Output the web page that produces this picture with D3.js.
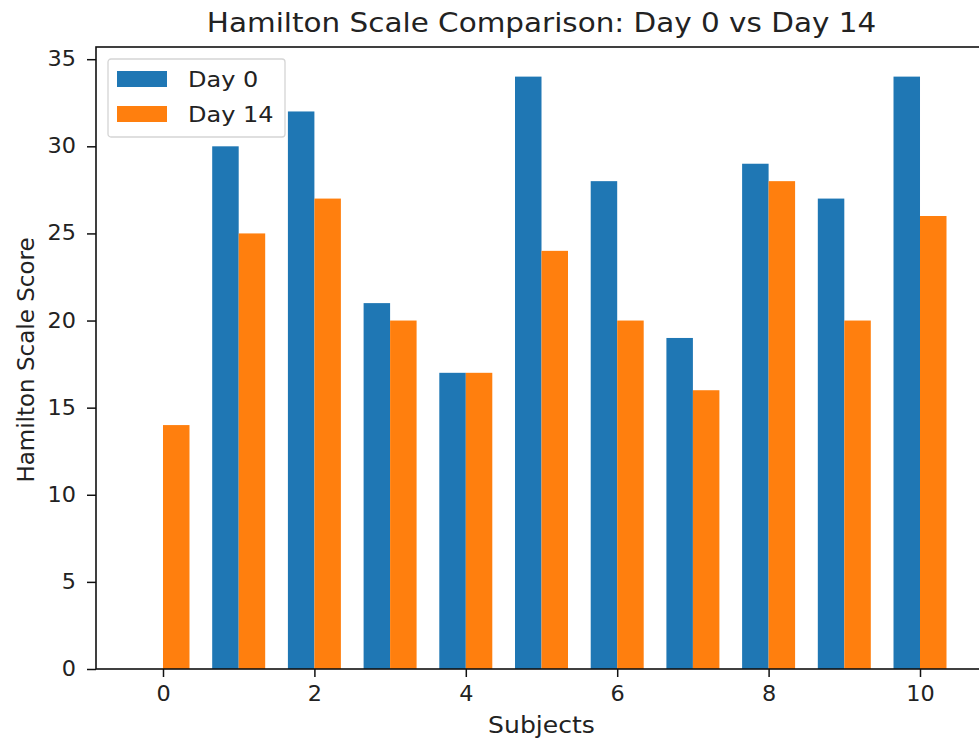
<!DOCTYPE html>
<html>
<head>
<meta charset="utf-8">
<script src="https://cdn.jsdelivr.net/npm/d3@7"></script>
<style>
  body { margin: 0; background: #fff; overflow: hidden; }
  svg text { font-family: "DejaVu Sans", sans-serif; fill: #222; }
</style>
</head>
<body>
<script>
// data
var subjects = [0, 1, 2, 3, 4, 5, 6, 7, 8, 9, 10];
var day0 = [0, 30, 32, 21, 17, 34, 28, 19, 29, 27, 34];
var day14 = [14, 25, 27, 20, 17, 24, 20, 16, 28, 20, 26];
var xTicks = [0, 2, 4, 6, 8, 10];
var yTicks = [0, 5, 10, 15, 20, 25, 30, 35];
var seriesNames = ["Day 0", "Day 14"];
var colors = ["#1f77b4", "#ff7f0e"];

var W = 979, H = 745;
var plotLeft = 96, plotRight = 987, plotTop = 47, plotBottom = 669;
var barW = 0.35;
// the reference picture is a little wider than tall, stretch text the same way
var stretchX = 1.09;

var svg = d3.select("body").append("svg")
    .attr("width", W)
    .attr("height", H);

// scales, with matplotlib style margins
var xScale = d3.scaleLinear()
    .domain([-barW - 0.535, 10 + barW + 0.535])
    .range([plotLeft, plotRight]);
var yScale = d3.scaleLinear()
    .domain([0, 34 * 1.05])
    .range([plotBottom, plotTop]);

// bars: day 0 left of the tick, day 14 right of it
var series = [day0, day14];
series.forEach(function(vals, s) {
  svg.append("g").selectAll("rect")
    .data(vals)
    .enter()
    .append("rect")
    .attr("x", function(d, i) { return xScale(subjects[i] + (s - 1) * barW); })
    .attr("width", function() { return xScale(barW) - xScale(0); })
    .attr("y", function(d) { return yScale(d); })
    .attr("height", function(d) { return yScale(0) - yScale(d); })
    .attr("fill", colors[s]);
});

// axes
var xAxis = d3.axisBottom(xScale).tickValues(xTicks).tickSize(8).tickPadding(9);
var yAxis = d3.axisLeft(yScale).tickValues(yTicks).tickSize(9).tickPadding(11);

var gx = svg.append("g").attr("transform", "translate(0," + plotBottom + ")").call(xAxis);
var gy = svg.append("g").attr("transform", "translate(" + plotLeft + ",0)").call(yAxis);
[gx, gy].forEach(function(g) {
  g.select(".domain").remove();
  g.selectAll("line").attr("stroke", "#111").attr("stroke-width", 1.5);
  g.selectAll("text").style("font-size", "20.5px").attr("fill", "#222");
});

// frame
svg.append("rect")
    .attr("x", plotLeft).attr("y", plotTop)
    .attr("width", plotRight - plotLeft).attr("height", plotBottom - plotTop)
    .attr("fill", "none").attr("stroke", "#111").attr("stroke-width", 1.6);

// title and labels
svg.append("text")
    .attr("x", (plotLeft + plotRight) / 2).attr("y", 32)
    .attr("text-anchor", "middle")
    .style("font-size", "27px")
    .text("Hamilton Scale Comparison: Day 0 vs Day 14");
svg.append("text")
    .attr("x", (plotLeft + plotRight) / 2).attr("y", 733)
    .attr("text-anchor", "middle")
    .style("font-size", "23px")
    .text("Subjects");
svg.append("text")
    .attr("transform", "translate(34," + ((plotTop + plotBottom) / 2 + 2) + ") rotate(-90)")
    .attr("text-anchor", "middle")
    .style("font-size", "23px")
    .attr("class", "ylab")
    .text("Hamilton Scale Score");

// legend
var legend = svg.append("g").attr("transform", "translate(108,59)");
legend.append("rect")
    .attr("width", 177).attr("height", 78).attr("rx", 3)
    .attr("fill", "#fff").attr("fill-opacity", 0.8)
    .attr("stroke", "#d5d5d5").attr("stroke-width", 1.3);
seriesNames.forEach(function(name, i) {
  legend.append("rect")
      .attr("x", 9).attr("y", 12 + i * 35)
      .attr("width", 50).attr("height", 16)
      .attr("fill", colors[i]);
  legend.append("text")
      .attr("x", 80).attr("y", 28 + i * 35)
      .style("font-size", "22px")
      .text(name);
});

// widen every text a bit (the y label is rotated, so it gets longer instead)
svg.selectAll("text").each(function() {
  var len = this.getComputedTextLength();
  var f = d3.select(this).classed("ylab") ? 1.0 : stretchX;
  d3.select(this).attr("textLength", len * f).attr("lengthAdjust", "spacingAndGlyphs");
});
</script>
</body>
</html>
